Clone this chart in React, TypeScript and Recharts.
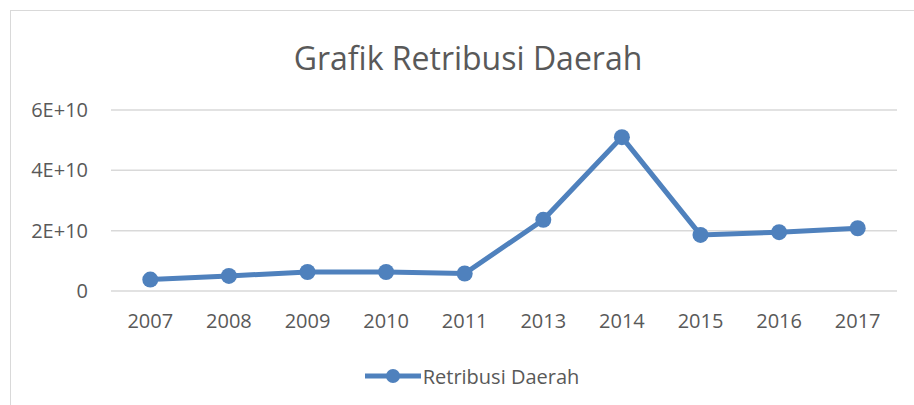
import React from 'react';
import { LineChart, Line, XAxis, YAxis, CartesianGrid, Legend } from 'recharts';

const years = ['2007', '2008', '2009', '2010', '2011', '2013', '2014', '2015', '2016', '2017'];
const retribusi = [3.8e9, 5.0e9, 6.3e9, 6.3e9, 5.8e9, 23.6e9, 51.0e9, 18.6e9, 19.5e9, 20.8e9];
const yTicks = [0, 2e10, 4e10, 6e10];
const seriesName = 'Retribusi Daerah';
const title = 'Grafik Retribusi Daerah';

const data = years.map((y, i) => ({ year: y, value: retribusi[i] }));

const FONT = '"Open Sans", sans-serif';
const TEXT = '#595959';
const BLUE = '#4f81bd';

const fmt = (v: number) => (v === 0 ? '0' : `${v / 1e10}E+10`);

const LegendContent = () => (
  <div style={{ display: 'flex', justifyContent: 'center', alignItems: 'center', paddingLeft: 47, height: 30 }}>
    <svg width={56} height={20}>
      <line x1={0} y1={10} x2={56} y2={10} stroke={BLUE} strokeWidth={5} strokeLinecap="round" />
      <circle cx={28} cy={10} r={7} fill={BLUE} />
    </svg>
    <span style={{ fontFamily: FONT, fontSize: 20, color: TEXT, marginLeft: 2 }}>{seriesName}</span>
  </div>
);

export default function App() {
  return (
    <div style={{ position: 'absolute', left: 0, top: 0, width: 914, height: 405, overflow: 'hidden', background: '#fff' }}>
      <div style={{ position: 'absolute', left: 10, top: 10, width: 1000, height: 1000, border: '1px solid #d9d9d9' }} />
      <div style={{ position: 'absolute', left: 0, width: 936, top: 36, textAlign: 'center', fontFamily: FONT, fontSize: 32, color: TEXT, lineHeight: '44px' }}>
        {title}
      </div>
      <div style={{ position: 'absolute', left: 0, top: 0 }}>
        <LineChart width={914} height={405} data={data} margin={{ top: 110, right: 17, bottom: 14, left: 0 }}>
          <CartesianGrid vertical={false} stroke="#d9d9d9" strokeWidth={1.5} />
          <XAxis
            dataKey="year"
            axisLine={false}
            tickLine={false}
            tickSize={0}
            tickMargin={23}
            height={70}
            padding={{ left: 39.3, right: 39.3 }}
            tick={{ fill: TEXT, fontFamily: FONT, fontSize: 20 }}
            interval={0}
          />
          <YAxis
            width={111}
            domain={[0, 6e10]}
            ticks={yTicks}
            tickFormatter={fmt}
            axisLine={false}
            tickLine={false}
            tickSize={0}
            tickMargin={23}
            tick={{ fill: TEXT, fontFamily: FONT, fontSize: 20 }}
          />
          <Legend verticalAlign="bottom" height={30} content={<LegendContent />} />
          <Line
            type="linear"
            dataKey="value"
            name={seriesName}
            stroke={BLUE}
            strokeWidth={5}
            dot={{ r: 8, fill: BLUE, stroke: BLUE, strokeWidth: 0 }}
            activeDot={false}
            isAnimationActive={false}
          />
        </LineChart>
      </div>
    </div>
  );
}
